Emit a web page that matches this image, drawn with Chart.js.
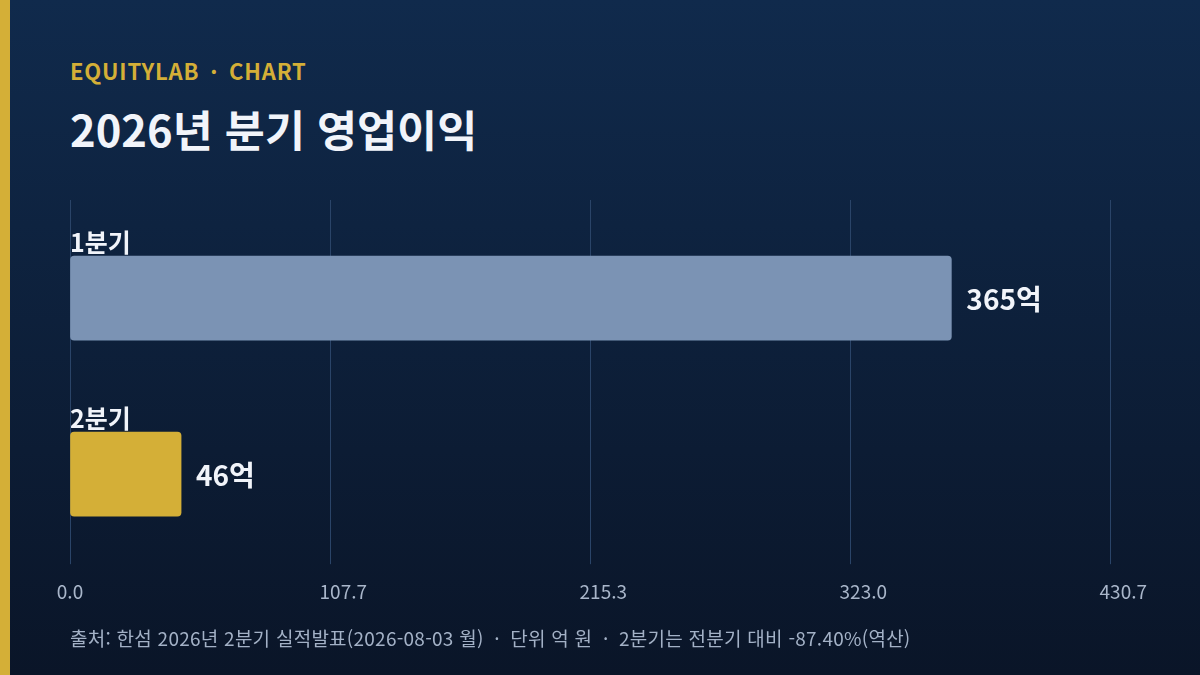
<!DOCTYPE html>
<html lang="ko">
<head>
<meta charset="utf-8">
<script src="https://cdn.jsdelivr.net/npm/chart.js@4"></script>
<style>
  html, body { margin: 0; padding: 0; }
  body {
    width: 1200px; height: 675px; overflow: hidden; position: relative;
    background: linear-gradient(180deg, #102a4c 0%, #0a1528 100%);
    font-family: "Noto Sans CJK KR", "Noto Sans", sans-serif;
  }
  .stripe { position: absolute; left: 0; top: 0; width: 10px; height: 675px; background: #d4af37; }
  .kicker { position: absolute; left: 70px; top: 54px; color: #d4af37; font-weight: 700; font-size: 22px; letter-spacing: 0.8px; white-space: nowrap; }
  .kicker .dot { margin: 0 4px; }
  .title { position: absolute; left: 70px; top: 97px; color: #f1f4fa; font-weight: 700; font-size: 43.5px; white-space: nowrap; }
  .note { position: absolute; left: 70px; top: 624px; color: #a3b1c6; font-size: 19px; letter-spacing: 0.25px; white-space: nowrap; }
  .note .dot { margin: 0 5px; }
  .wrap { position: absolute; left: 0; top: 190px; width: 1200px; height: 436px; }
</style>
</head>
<body>
<div class="stripe"></div>
<div class="kicker">EQUITYLAB <span class="dot">·</span> CHART</div>
<div class="title">2026년 분기 영업이익</div>
<div class="wrap"><canvas id="c"></canvas></div>
<div class="note">출처: 한섬 2026년 2분기 실적발표(2026-08-03 월) <span class="dot">·</span> 단위 억 원 <span class="dot">·</span> 2분기는 전분기 대비 -87.40%(역산)</div>
<script>
const QUARTERS = ['1분기', '2분기'];
const PROFIT = [365, 46];
const BAR_COLORS = ['#7b93b4', '#d4af37'];

Chart.defaults.font.family = '"Noto Sans CJK KR", "Noto Sans", sans-serif';

const AXIS_MAX = Math.max(...PROFIT) * 1.18;
const GRID = '#2a4468';

const barLabels = {
  id: 'barLabels',
  afterDatasetsDraw(chart) {
    const { ctx, chartArea } = chart;
    const meta = chart.getDatasetMeta(0);
    ctx.save();
    meta.data.forEach((bar, i) => {
      const half = bar.height / 2;
      ctx.fillStyle = '#f1f4fa';
      ctx.font = '700 25px "Noto Sans CJK KR"';
      ctx.textAlign = 'left';
      ctx.textBaseline = 'alphabetic';
      ctx.fillText(QUARTERS[i], chartArea.left, bar.y - half - 4);
      ctx.font = '700 28px "Noto Sans CJK KR"';
      ctx.textBaseline = 'middle';
      ctx.fillText(PROFIT[i] + '억', bar.x + 15, bar.y + 1);
    });
    ctx.restore();
  },
};

new Chart(document.getElementById('c'), {
  type: 'bar',
  data: {
    labels: QUARTERS,
    datasets: [{
      data: PROFIT,
      backgroundColor: BAR_COLORS,
      borderWidth: 0,
      borderRadius: 4,
      borderSkipped: false,
      barThickness: 84,
    }],
  },
  options: {
    indexAxis: 'y',
    responsive: true,
    maintainAspectRatio: false,
    animation: false,
    layout: { padding: { left: 70, right: 90, top: 10, bottom: 7 } },
    plugins: { legend: { display: false }, tooltip: { enabled: false } },
    scales: {
      x: {
        min: 0,
        max: AXIS_MAX,
        border: { display: false },
        grid: { color: GRID, lineWidth: 1, tickLength: 2, tickColor: GRID },
        ticks: {
          count: 5,
          padding: 16,
          color: '#a9b6ca',
          font: { size: 19 },
          maxRotation: 0,
          // labels after the first sit a little right of their gridline in the original
          callback: (v, i) => (i === 0 ? '' : '     ') + Number(v).toFixed(1),
        },
      },
      // top axis only extends the gridlines a bit above the plot
      xTop: {
        type: 'linear',
        position: 'top',
        display: true,
        min: 0,
        max: AXIS_MAX,
        border: { display: false },
        grid: { drawOnChartArea: false, tickLength: 10, color: GRID, tickColor: GRID },
        ticks: { count: 5, display: false },
      },
      y: { display: false },
    },
  },
  plugins: [barLabels],
});
</script>
</body>
</html>
